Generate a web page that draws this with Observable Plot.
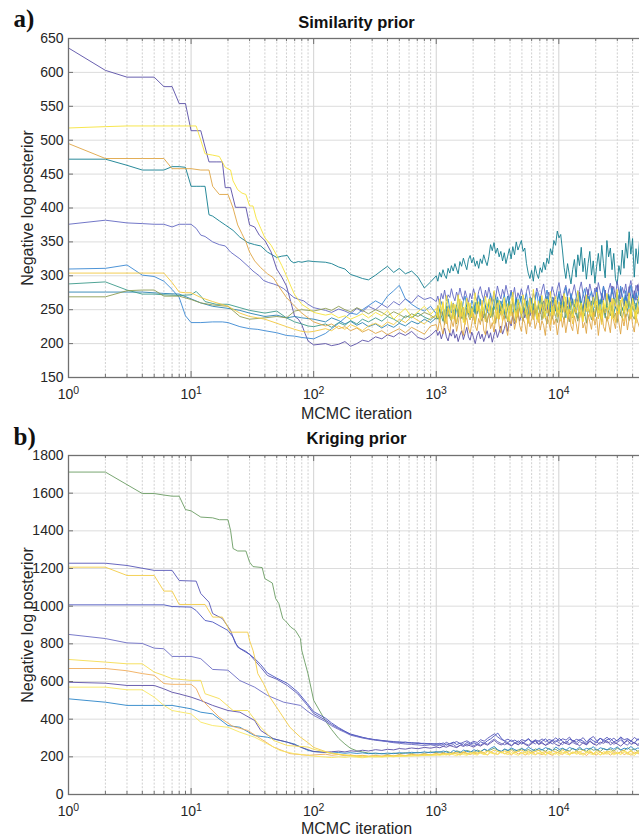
<!DOCTYPE html>
<html><head><meta charset="utf-8">
<script src="https://cdn.jsdelivr.net/npm/d3@7"></script>
<script src="https://cdn.jsdelivr.net/npm/@observablehq/plot@0.6"></script>
<style>
html,body{margin:0;padding:0;background:#fff;overflow:hidden;width:639px;height:836px;}
#root svg{display:block;max-width:none !important;}
</style></head><body><div id="root"></div>
<script>
// ---------- shared axis values ----------
const majorTicks = [1, 10, 100, 1000, 10000];
const xTickBase = "10";
const xTickExponents = ["0", "1", "2", "3", "4"];
const minorTicks = [2,3,4,5,6,7,8,9,20,30,40,50,60,70,80,90,200,300,400,500,600,700,800,900,
  2000,3000,4000,5000,6000,7000,8000,9000,20000,30000,40000];
const simYTicks = [150,200,250,300,350,400,450,500,550,600,650];
const krigYTicks = [0,200,400,600,800,1000,1200,1400,1600,1800];

// ---------- a) iterations of the sampling phase ----------
const simMidIter = [100,125,140,160,180,200,225,250,280,320,360,400,450,500,560,630,710,800,900];
const simFineIter = [
1000,1030,1065,1100,1135,1170,1210,1250,1290,1330,
1375,1420,1465,1510,1560,1610,1665,1720,1775,1830,
1890,1950,2015,2080,2150,2220,2290,2365,2440,2520,
2600,2685,2775,2865,2960,3055,3155,3260,3365,3475,
3590,3705,3825,3950,4080,4215,4350,4495,4640,4790,
4950,5110,5275,5450,5625,5810,6000,6195,6400,6610,
6825,7050,7280,7515,7760,8015,8275,8545,8825,9115,
9410,9720,10035,10365,10700,11050,11410,11785,12170,12565,
12975,13400,13840,14290,14755,15240,15735,16250,16780,17330,
17895,18480,19085,19705,20350,21015,21700,22410,23140,23895,
24675,25480,26315,27175,28060,28975,29920,30900,31910,32950,
34025,35135,36285,37470,38690,39955,41260,42610,44000,45440];

// ---------- a) Similarity prior chains ----------
const simA1Iter  = [1,2,3,4,5,6,7,8,9,10,11,12,13,14,16,18,19,21,23,25,28,30,33,36,40,45,50,55,60,65,70,75,80,85,90];
const simA1Early = [636,603,593,593,593,579,579,554,554,514,514,514,490,468,468,468,430,430,401,401,401,375,372,360,352,335,310,298,285,262,240,236,228,215,204];
const simA1Mid = [198,200,197,199,203,196,200,205,203,210,207,213,210,216,212,218,209,206,212];
const simA1Fine = [
220,212,218,207,215,223,210,204,216,211,
221,208,214,203,212,219,206,215,224,210,
205,217,209,200,212,218,207,214,203,211,
219,208,216,202,213,221,209,217,226,214,
222,231,218,235,226,241,229,236,246,233,
242,251,238,247,256,241,249,236,252,245,
258,244,253,263,248,257,241,262,250,268,
255,247,261,252,270,258,246,264,253,272,
259,249,266,255,276,261,248,269,257,280,
264,252,271,258,283,266,250,274,262,279,
257,270,261,285,266,252,276,263,281,268,
255,272,260,284,269,257,278,264,287,270];

const simA2Iter  = [1,2,3,5,8,11,12,13,15,17,19,21,22,24,26,28,30,32,34,37,40,45,50,55,60,65,70,80,90];
const simA2Early = [518,520,521,521,521,521,500,480,478,476,460,456,440,427,422,420,403,403,385,370,356,345,330,315,300,285,272,258,252];
const simA2Mid = [246,242,244,238,241,236,240,244,238,246,241,249,236,244,252,239,247,255,243];
const simA2Fine = [
252,238,266,247,259,234,271,255,243,262,
236,258,249,272,240,263,231,254,267,245,
260,239,256,275,248,262,235,258,244,270,
252,266,241,257,278,250,237,264,255,243,
268,247,259,233,262,276,251,240,265,256,
244,272,258,239,254,267,246,280,260,236,
263,249,271,255,238,266,252,277,242,258,
270,246,262,235,259,274,250,241,268,255,
239,265,253,278,247,260,233,256,272,248,
262,240,269,254,276,245,258,237,264,251,
274,249,261,236,266,255,280,243,259,268,
246,263,252,275,240,267,256,238,261,272];

const simA3Iter  = [1,2,3,4,5,6,7,8,10,12,13,14,15,17,20,21,22,24,26,28,30,33,37,42,47,53,60,70,80,90];
const simA3Early = [495,473,473,473,473,473,458,458,458,456,456,456,432,420,420,410,400,375,362,350,335,322,312,303,297,282,268,255,245,238];
const simA3Mid = [232,226,229,222,225,219,223,217,221,215,219,213,218,222,216,224,219,214,226];
const simA3Fine = [
228,219,236,224,214,231,242,222,216,234,
225,240,218,229,246,221,212,233,238,223,
215,230,244,226,219,237,228,248,220,213,
235,243,222,231,217,239,250,226,216,233,
241,224,212,236,229,246,221,234,251,227,
218,238,230,214,243,225,237,249,222,231,
245,220,234,227,212,240,232,219,247,228,
236,213,229,244,224,238,216,233,250,226,
219,241,230,214,237,248,223,231,215,243,
232,221,246,227,239,212,235,250,225,218,
240,229,216,245,233,222,248,231,214,237,
226,243,220,236,251,228,217,241,232,224];

const simA4Iter  = [1,2,3,4,5,6,7,8,9,10,11,12,13,14,15,17,19,22,25,29,33,37,42,50,55,61,65,69,75,80,90];
const simA4Early = [472,472,463,456,456,456,461,461,460,432,432,432,432,390,388,381,375,367,357,349,346,344,335,327,329,330,322,319,321,320,322];
const simA4Mid = [321,320,318,313,310,302,299,296,294,301,308,314,305,311,303,307,298,282,291];
const simA4Fine = [
300,292,305,298,309,301,296,311,304,315,
307,318,310,303,321,314,326,317,309,324,
330,319,327,314,322,311,325,318,331,322,
315,328,346,337,349,333,341,328,336,322,
334,318,329,340,325,343,331,350,338,345,
352,336,341,318,304,296,308,292,315,303,
296,312,305,320,309,326,318,340,331,352,
345,366,356,361,338,312,296,318,302,288,
309,324,298,331,315,342,306,326,295,318,
336,301,322,289,314,333,307,345,318,297,
352,328,341,309,333,296,287,315,302,338,
311,348,326,365,332,355,298,340,318,350];

const simA5Iter  = [1,2,3,4,5,6,7,8,9,10,11,12,13,15,17,19,21,25,30,32,36,39,43,47,52,57,63,69,76,83,90];
const simA5Early = [376,382,378,377,376,376,372,376,376,376,370,360,358,350,346,344,335,325,312,307,300,293,290,288,285,281,274,268,265,263,258];
const simA5Mid = [253,249,246,251,248,244,252,247,255,250,258,253,262,257,266,260,271,265,268];
const simA5Fine = [
262,270,258,274,266,279,263,272,268,281,
270,263,276,268,282,271,264,278,269,259,
274,266,281,270,263,277,284,272,265,279,
268,283,271,262,276,268,285,274,266,280,
271,286,275,264,279,269,283,262,275,268,
281,270,262,277,286,271,259,274,267,282,
273,264,279,288,272,261,276,268,284,275,
266,281,290,274,263,278,286,270,281,266,
276,287,271,262,280,291,274,265,283,272,
288,276,266,282,271,290,278,267,285,274,
263,279,289,273,284,268,292,277,266,283,
274,288,270,281,293,276,265,286,278,290];

const simA6Iter  = [1,2,3,4,5,6,7,8,9,10,12,15,18,20,25,30,35,40,50,60,70,80,90];
const simA6Early = [310,311,316,301,299,292,280,268,241,231,231,232,232,231,225,222,221,219,216,212,211,209,208];
const simA6Mid = [207,215,222,230,238,245,243,250,256,263,258,270,278,286,266,258,252,248,255];
const simA6Fine = [
244,256,249,262,253,241,258,266,251,245,
260,248,255,268,257,246,262,270,254,261,
249,264,256,243,259,271,260,252,266,257,
245,262,274,258,266,251,269,258,247,263,
272,259,250,265,276,262,254,268,257,271,
261,248,264,274,255,268,259,246,263,276,
258,270,262,251,267,279,264,253,269,260,
248,265,277,262,254,271,283,266,257,274,
262,251,268,278,263,256,272,281,265,254,
269,277,258,266,280,263,252,271,284,268,
257,273,264,282,270,259,276,266,285,271,
262,278,255,272,286,268,259,275,267,281];

const simA7Iter  = [1,2,3,4,5,6,7,8,9,10,12,15,20,25,30,35,40,50,60,70,80,90];
const simA7Early = [304,304,304,304,304,304,290,276,275,275,268,262,255,245,240,238,236,230,225,221,218,217];
const simA7Mid = [218,222,219,226,221,228,224,219,226,230,225,232,228,236,231,240,234,229,238];
const simA7Fine = [
241,256,233,248,262,238,229,253,246,235,
259,242,231,250,266,240,254,228,247,261,
236,252,244,230,258,249,237,264,243,232,
255,247,267,239,229,251,260,236,248,233,
262,245,234,256,241,268,250,231,246,259,
238,253,265,242,230,257,244,235,263,249,
231,248,258,237,266,245,252,228,255,241,
264,239,250,233,257,246,269,236,251,243,
229,254,245,262,238,250,232,258,247,266,
240,256,234,249,263,237,252,228,260,245,
253,236,248,267,242,231,257,246,264,239,
233,259,244,251,236,262,248,230,255,242];

const simA8Iter  = [1,2,3,4,5,6,8,10,11,12,13,16,20,25,30,40,50,60,70,80,90];
const simA8Early = [288,291,279,273,273,272,271,272,277,270,262,258,258,253,249,245,248,238,232,229,226];
const simA8Mid = [225,229,224,231,227,234,229,236,232,238,233,240,236,231,241,238,245,239,235];
const simA8Fine = [
243,236,250,241,233,248,255,240,246,258,
244,237,252,246,260,242,235,251,257,243,
249,238,256,245,262,250,241,258,247,236,
254,261,246,239,255,248,264,251,243,258,
246,237,253,262,249,241,257,245,265,252,
240,256,248,263,236,252,245,259,250,242,
257,247,262,251,240,255,264,249,243,258,
252,239,256,246,263,251,238,255,247,261,
244,258,250,237,254,262,248,241,259,252,
246,263,253,240,257,249,265,244,255,238,
259,247,262,251,243,256,248,264,241,253,
245,258,250,263,242,255,247,260,252,244];

const simA9Iter  = [1,2,3,4,6,8,10,12,15,20,25,30,40,50,60,70,80,90];
const simA9Early = [276,276,276,276,274,273,266,260,255,252,249,245,240,242,238,240,238,237];
const simA9Mid = [236,232,238,234,229,233,227,231,225,229,223,228,224,230,226,233,229,236,231];
const simA9Fine = [
238,246,235,251,242,233,248,256,241,236,
250,243,257,239,248,262,245,237,253,246,
240,255,247,261,244,252,266,249,238,256,
248,262,253,241,259,268,251,245,263,255,
243,258,270,254,247,262,251,266,245,259,
270,256,248,263,242,258,267,250,261,246,
255,265,249,239,258,270,253,247,264,256,
248,261,273,257,246,262,252,268,244,259,
266,250,243,261,271,255,247,264,252,270,
258,246,263,253,274,259,248,266,256,243,
262,271,255,248,267,258,276,251,263,249,
257,269,246,262,253,272,258,250,266,255];

const simA10Iter  = [1,2,3,4,5,6,8,10,12,15,20,25,30,40,50,60,70,80,90];
const simA10Early = [269,269,278,279,279,270,270,265,260,257,255,240,236,238,240,238,248,250,249];
const simA10Mid = [248,252,249,255,250,247,253,249,244,250,246,241,247,243,238,244,240,246,242];
const simA10Fine = [
236,245,231,250,240,228,244,252,238,233,
247,239,229,243,254,237,246,232,250,241,
235,248,240,229,245,256,239,233,249,242,
231,246,238,253,241,230,247,236,255,243,
237,250,232,244,258,240,234,248,239,253,
244,233,249,241,230,246,255,238,250,236,
242,253,235,247,239,229,251,243,236,249,
240,231,246,257,241,235,250,244,232,248,
238,252,243,233,247,256,239,245,230,251,
244,235,249,240,254,237,246,232,250,242,
233,248,241,256,238,245,231,252,243,237,
250,239,246,234,253,241,236,249,244,257];

// ---------- b) iterations of the sampling phase ----------
const krigLateIter = [
100,125,140,160,180,200,225,250,280,320,
360,400,450,500,560,630,710,800,900,1000,
1070,1140,1210,1290,1380,1470,1570,1670,1780,1900,
2030,2160,2300,2460,2620,2790,2980,3180,3390,3610,
3850,4110,4380,4670,4980,5310,5660,6030,6430,6860,
7310,7800,8310,8860,9450,10080,10750,11460,12220,13030,
13890,14810,15790,16840,17950,19140,20410,21760,23200,24740,
26380,28130,29990,31980,34100,36360,38770,41340,44080,47000];

// ---------- b) Kriging prior chains ----------
const krigB1Iter  = [1,2,4,5,6,7,8,9,10,12,15,17,20,21,22,24,28,30,32,38,40,46,49,52,56,59,65,71,78,80,85,90];
const krigB1Early = [1712,1712,1598,1598,1590,1584,1584,1513,1506,1473,1469,1459,1459,1402,1306,1293,1293,1234,1210,1205,1146,1123,1040,1014,934,921,889,871,828,765,700,640];
const krigB1Late = [
500,390,345,298,268,245,232,226,220,216,
218,214,220,216,222,218,224,219,226,222,
228,221,230,224,219,232,226,222,234,228,
224,236,229,240,232,238,246,235,228,239,
233,241,230,237,244,231,239,228,242,235,
238,229,245,234,240,227,243,236,231,246,
232,242,237,229,247,235,240,228,244,236,
241,230,246,237,233,248,235,242,229,239];

const krigB2Iter  = [1,2,3,5,7,8,11,12,14,15,18,21,23,25,30,37,42,50,61,74,89];
const krigB2Early = [1228,1228,1216,1190,1190,1136,1133,1067,1021,961,934,871,802,775,744,676,632,612,579,535,473];
const krigB2Late = [
430,395,372,350,334,318,310,302,297,290,
287,284,281,276,279,272,275,268,271,266,
272,265,277,268,274,281,270,278,285,274,
282,276,291,283,298,310,322,305,292,286,
294,281,289,276,292,284,297,279,290,283,
295,280,292,286,301,284,296,289,305,281,
293,287,302,279,296,308,285,298,290,304,
287,299,282,306,291,297,284,303,289,295];

const krigB3Iter  = [1,2,3,5,6,7,8,10,13,15,18,21,29,30,32,33,35,39,44,53,64,78,90];
const krigB3Early = [1207,1207,1163,1163,1080,1080,1009,1009,1009,942,942,862,862,818,765,729,642,589,516,437,357,304,275];
const krigB3Late = [
250,228,220,214,210,207,204,206,203,205,
202,207,204,209,206,211,208,214,210,216,
212,218,214,221,216,224,218,227,220,215,
225,219,229,222,232,226,236,228,221,231,
224,234,220,229,237,223,231,218,228,235,
222,230,217,233,226,219,236,224,229,218,
231,223,237,220,228,216,233,225,219,230,
224,234,218,227,236,221,229,217,232,225];

const krigB4Iter  = [1,6,7,10,11,13,15,20,22,24,28,33,37,42,50,61,74,89];
const krigB4Early = [1007,1007,998,995,977,924,916,871,836,782,760,722,690,645,618,590,545,482];
const krigB4Late = [
440,405,380,355,336,321,312,304,296,291,
286,282,278,280,274,276,270,272,267,270,
266,274,262,270,278,265,273,260,276,268,
275,264,280,271,286,296,312,326,300,282,
276,290,272,285,268,281,294,275,288,270,
283,296,274,289,278,298,282,271,294,286,
278,292,283,270,297,285,276,300,281,291,
297,279,289,301,275,293,283,272,296,285];

const krigB5Iter  = [1,2,3,4,5,6,7,10,12,15,20,25,33,42,57,78,90];
const krigB5Early = [850,828,805,802,777,774,733,733,721,664,660,605,570,526,490,473,440];
const krigB5Late = [
420,387,365,345,330,315,307,300,294,288,
284,280,275,272,268,266,263,260,264,258,
262,256,268,259,265,252,262,270,257,266,
259,270,262,275,267,282,295,280,271,264,
272,261,277,266,282,270,263,279,268,285,
271,262,280,268,287,274,265,283,270,276,
266,281,272,263,286,270,279,266,288,274,
280,267,276,290,271,262,284,273,266,281];

const krigB6Iter  = [1,2,3,4,5,6,7,10,12,13,17,22,29,37,47,61,90];
const krigB6Early = [717,703,694,694,650,632,615,606,606,535,509,446,446,357,287,260,252];
const krigB6Late = [
240,226,218,213,209,206,203,200,202,199,
203,200,205,202,207,204,210,206,212,209,
215,210,218,212,221,214,209,220,213,224,
216,226,219,212,228,221,215,230,223,217,
229,214,224,232,218,226,211,223,231,216,
225,212,230,220,214,233,219,227,210,224,
217,229,213,226,234,218,223,211,228,220,
232,215,225,212,229,221,235,216,224,213];

const krigB7Iter  = [1,2,3,4,5,6,7,10,11,12,14,17,22,29,37,47,64,90];
const krigB7Early = [669,669,657,642,633,589,585,585,563,509,464,410,361,340,296,252,217,208];
const krigB7Late = [
210,214,208,212,206,210,205,208,203,207,
204,209,205,211,207,213,209,215,211,217,
213,220,214,209,222,216,211,224,217,212,
221,214,226,218,211,225,219,213,228,216,
222,210,227,215,223,209,220,226,213,219,
211,224,216,208,226,219,212,229,215,221,
226,213,220,207,224,217,210,228,214,222,
209,223,216,227,212,220,208,225,218,211];

const krigB8Iter  = [1,2,3,5,6,7,8,10,12,15,20,25,33,37,47,61,78,90];
const krigB8Early = [596,591,579,579,561,543,534,517,499,473,446,437,393,340,296,278,252,238];
const krigB8Late = [
228,224,227,230,226,232,229,235,231,238,
234,240,237,244,241,247,243,250,246,252,
248,256,251,260,254,249,262,255,266,258,
252,264,257,270,262,275,288,271,263,276,
268,258,273,264,279,266,257,272,283,265,
276,261,270,283,266,258,279,271,264,287,
270,259,276,265,282,268,261,278,272,285,
263,279,268,257,274,286,266,277,260,272];

const krigB9Iter  = [1,2,3,4,5,6,7,10,12,15,20,25,33,42,53,69,90];
const krigB9Early = [570,570,556,556,517,473,446,428,384,366,357,331,304,269,234,217,208];
const krigB9Late = [
204,199,196,200,197,201,198,195,199,202,
198,203,200,205,202,207,204,209,206,211,
207,213,209,216,211,206,218,212,208,220,
214,209,222,215,210,224,217,212,226,218,
211,223,215,208,220,213,227,216,210,222,
217,209,224,213,219,208,225,215,211,228,
213,220,208,225,216,211,223,209,218,214,
222,210,219,214,226,212,217,207,224,215];

const krigB10Iter  = [1,2,3,5,7,10,12,15,20,25,33,42,53,69,90];
const krigB10Early = [508,490,473,473,473,455,437,428,366,357,313,304,287,269,234];
const krigB10Late = [
228,224,220,223,219,222,218,221,217,220,
216,220,217,222,219,224,221,226,222,228,
224,231,226,220,234,227,222,236,229,224,
238,230,225,241,233,246,255,237,229,242,
234,247,238,230,244,236,251,240,232,245,
237,249,241,233,252,239,246,235,250,242,
238,251,236,245,240,254,233,248,243,237,
249,240,253,236,246,241,255,238,247,243];

// ---------- chain tables (draw order) ----------
const simLateIter = simMidIter.concat(simFineIter);
const simChains = [
  {color: "#117d8e", iter: simA4Iter, early: simA4Early, lateIter: simLateIter, late: simA4Mid.concat(simA4Fine)},
  {color: "#584ea6", iter: simA1Iter, early: simA1Early, lateIter: simLateIter, late: simA1Mid.concat(simA1Fine)},
  {color: "#6268c2", iter: simA5Iter, early: simA5Early, lateIter: simLateIter, late: simA5Mid.concat(simA5Fine)},
  {color: "#3a88d2", iter: simA6Iter, early: simA6Early, lateIter: simLateIter, late: simA6Mid.concat(simA6Fine)},
  {color: "#2a82b2", iter: simA9Iter, early: simA9Early, lateIter: simLateIter, late: simA9Mid.concat(simA9Fine)},
  {color: "#3c9a8a", iter: simA8Iter, early: simA8Early, lateIter: simLateIter, late: simA8Mid.concat(simA8Fine)},
  {color: "#8c9c52", iter: simA10Iter, early: simA10Early, lateIter: simLateIter, late: simA10Mid.concat(simA10Fine)},
  {color: "#dfa544", iter: simA3Iter, early: simA3Early, lateIter: simLateIter, late: simA3Mid.concat(simA3Fine)},
  {color: "#f3c840", iter: simA7Iter, early: simA7Early, lateIter: simLateIter, late: simA7Mid.concat(simA7Fine)},
  {color: "#f6e33a", iter: simA2Iter, early: simA2Early, lateIter: simLateIter, late: simA2Mid.concat(simA2Fine)}
];
const krigChains = [
  {color: "#6a9c62", iter: krigB1Iter, early: krigB1Early, lateIter: krigLateIter, late: krigB1Late},
  {color: "#2a84c8", iter: krigB10Iter, early: krigB10Early, lateIter: krigLateIter, late: krigB10Late},
  {color: "#5656b8", iter: krigB2Iter, early: krigB2Early, lateIter: krigLateIter, late: krigB2Late},
  {color: "#4b55bf", iter: krigB4Iter, early: krigB4Early, lateIter: krigLateIter, late: krigB4Late},
  {color: "#6b6cc4", iter: krigB5Iter, early: krigB5Early, lateIter: krigLateIter, late: krigB5Late},
  {color: "#5a4ea6", iter: krigB8Iter, early: krigB8Early, lateIter: krigLateIter, late: krigB8Late},
  {color: "#f0ad5a", iter: krigB7Iter, early: krigB7Early, lateIter: krigLateIter, late: krigB7Late},
  {color: "#f3cc45", iter: krigB3Iter, early: krigB3Early, lateIter: krigLateIter, late: krigB3Late},
  {color: "#f5dd50", iter: krigB6Iter, early: krigB6Early, lateIter: krigLateIter, late: krigB6Late},
  {color: "#f8e660", iter: krigB9Iter, early: krigB9Early, lateIter: krigLateIter, late: krigB9Late}
];

// ---------- drawing ----------
const FONT = "'Liberation Sans', Arial, Helvetica, sans-serif";
const AXIS = "#707070";
const W = 644, ML = 68, MR = 0;
const tickExp = new Map(majorTicks.map((t, i) => [t, xTickExponents[i]]));

function panel({chains, yTicks, yDomain, title, tag, height, marginTop, marginBottom, titleDy, tagDy, xLabelDy}) {
  const frameW = W - ML - MR, frameH = height - marginTop - marginBottom;
  const marks = [
    Plot.gridX(minorTicks, {stroke: "#c4c4c4", strokeOpacity: 1, strokeWidth: 0.8, strokeDasharray: "2,1.6"}),
    Plot.gridX(majorTicks, {stroke: "#cdcdcd", strokeOpacity: 1, strokeWidth: 0.9}),
    Plot.gridY(yTicks, {stroke: "#d8d8d8", strokeOpacity: 1, strokeWidth: 0.9})
  ];
  for (const c of chains) {
    const xs = c.iter.concat(c.lateIter), ys = c.early.concat(c.late);
    if (xs.length !== ys.length) console.warn("length mismatch", c.color, xs.length, ys.length);
    const n = Math.min(xs.length, ys.length);
    const rows = d3.range(n).map(i => ({x: xs[i], y: ys[i]}));
    marks.push(Plot.line(rows, {x: "x", y: "y", stroke: c.color, strokeWidth: 0.9, clip: true}));
  }
  marks.push(
    Plot.tickX(majorTicks, {x: d => d, insetTop: frameH - 6, stroke: AXIS}),
    Plot.tickX(majorTicks, {x: d => d, insetBottom: frameH - 6, stroke: AXIS}),
    Plot.tickX(minorTicks, {x: d => d, insetTop: frameH - 3, stroke: AXIS}),
    Plot.tickX(minorTicks, {x: d => d, insetBottom: frameH - 3, stroke: AXIS}),
    Plot.tickY(yTicks, {y: d => d, insetRight: frameW - 5, stroke: AXIS}),
    Plot.frame({stroke: AXIS, strokeWidth: 1.3}),
    Plot.axisX(majorTicks, {tickSize: 0, tickPadding: 12, tickFormat: d => xTickBase + "^" + tickExp.get(d), fontSize: 14, fontFamily: FONT, fill: "#262626", label: null}),
    Plot.axisY(yTicks, {tickSize: 0, tickPadding: 5, tickFormat: d => String(d), fontSize: 14, fontFamily: FONT, fill: "#262626", label: null}),
    Plot.text(["Negative log posterior"], {frameAnchor: "left", dx: -41, rotate: -90, textAnchor: "middle", lineAnchor: "middle", text: d => d, fontSize: 16, fontFamily: FONT, fill: "#262626"}),
    Plot.text(["MCMC iteration"], {frameAnchor: "bottom", dy: xLabelDy, text: d => d, fontSize: 16, fontFamily: FONT, fill: "#262626", lineAnchor: "middle"}),
    Plot.text([title], {frameAnchor: "top", dy: titleDy, text: d => d, fontSize: 16.5, fontWeight: "bold", fontFamily: FONT, fill: "#111", lineAnchor: "middle"}),
    Plot.text([tag], {frameAnchor: "top-left", dx: -55, dy: tagDy, text: d => d, textAnchor: "start", lineAnchor: "middle", fontSize: 25, fontWeight: "bold", fontFamily: "'Liberation Serif', 'Times New Roman', serif", fill: "#111"})
  );
  const svg = Plot.plot({
    width: W, height, marginLeft: ML, marginRight: MR, marginTop, marginBottom,
    style: {background: "white", maxWidth: "none", overflow: "visible", fontFamily: FONT},
    x: {type: "log", domain: [1, 50000], axis: null},
    y: {domain: yDomain, axis: null},
    marks
  });
  // render "10^k" tick labels with a real raised exponent
  svg.querySelectorAll("text").forEach(t => {
    const s = t.textContent;
    if (/^10\^\d$/.test(s)) {
      t.textContent = "";
      const base = document.createElementNS("http://www.w3.org/2000/svg", "tspan");
      base.textContent = s.slice(0, 2);
      const exp = document.createElementNS("http://www.w3.org/2000/svg", "tspan");
      exp.textContent = s.slice(3);
      exp.setAttribute("dy", "-5");
      exp.setAttribute("font-size", "10.5");
      t.appendChild(base);
      t.appendChild(exp);
    }
  });
  return svg;
}

const root = document.getElementById("root");
root.appendChild(panel({chains: simChains, yTicks: simYTicks, yDomain: [150, 650], title: "Similarity prior", tag: "a)",
  height: 420, marginTop: 38, marginBottom: 43, titleDy: -16, tagDy: -20, xLabelDy: 36}));
root.appendChild(panel({chains: krigChains, yTicks: krigYTicks, yDomain: [0, 1800], title: "Kriging prior", tag: "b)",
  height: 416, marginTop: 35, marginBottom: 42, titleDy: -17, tagDy: -19, xLabelDy: 34}));
</script></body></html>
